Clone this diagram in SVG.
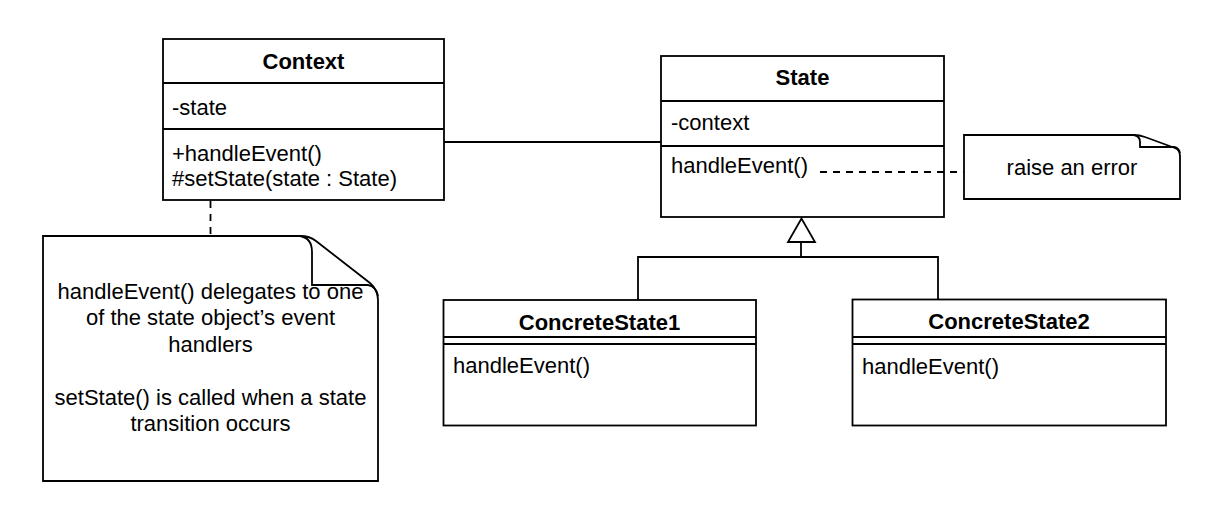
<svg xmlns="http://www.w3.org/2000/svg" width="1224" height="509" viewBox="0 0 1224 509">
<style>
.box{fill:#fff;stroke:#000;stroke-width:1.8}
.ln{fill:none;stroke:#000;stroke-width:1.8}
.dash{fill:none;stroke:#000;stroke-width:1.8;stroke-dasharray:7 6}
text{font-family:"Liberation Sans",Arial,Helvetica,sans-serif;font-size:22px;fill:#000}
.t{font-weight:bold;text-anchor:middle}
.c{text-anchor:middle}
</style>
<rect width="1224" height="509" fill="#fff"/>
<g id="context">
<rect class="box" x="163" y="39" width="281" height="161"/>
<line class="ln" x1="163" y1="83" x2="444" y2="83"/>
<line class="ln" x1="163" y1="129" x2="444" y2="129"/>
<text class="t" x="303.5" y="69">Context</text>
<text x="172" y="115">-state</text>
<text x="172" y="161">+handleEvent()</text>
<text x="172" y="186">#setState(state : State)</text>
</g>
<g id="state">
<rect class="box" x="661" y="56" width="283" height="161"/>
<line class="ln" x1="661" y1="101" x2="944" y2="101"/>
<line class="ln" x1="661" y1="146" x2="944" y2="146"/>
<text class="t" x="802.5" y="85">State</text>
<text x="671" y="130">-context</text>
<text x="671" y="173">handleEvent()</text>
</g>
<g id="concrete1">
<rect class="box" x="443.5" y="300" width="312.5" height="125.5"/>
<line class="ln" x1="443.5" y1="337" x2="756" y2="337"/>
<line class="ln" x1="443.5" y1="344" x2="756" y2="344"/>
<text class="t" x="599.5" y="330">ConcreteState1</text>
<text x="453" y="373">handleEvent()</text>
</g>
<g id="concrete2">
<rect class="box" x="852.5" y="299.5" width="313.5" height="126"/>
<line class="ln" x1="852.5" y1="337" x2="1166" y2="337"/>
<line class="ln" x1="852.5" y1="344" x2="1166" y2="344"/>
<text class="t" x="1009" y="329">ConcreteState2</text>
<text x="862" y="374">handleEvent()</text>
</g>
<g id="note-error">
<path class="box" d="M964,135 H1133 Q1140,135 1145,137 L1175,148 Q1180,150 1180,156 V199 H964 Z"/>
<path class="ln" d="M1134,135 Q1140,136 1140,142 V147 H1174 Q1179,148 1180,153"/>
<text class="c" x="1072" y="175">raise an error</text>
</g>
<g id="note-context">
<path class="box" d="M43,236 H300 Q310,236 316,241 L370,283 Q378,290 378,300 V481 H43 Z"/>
<path class="ln" d="M300,236 Q312,238 312,252 V285 H368 Q376,286 378,296"/>
<text class="c" x="210.5" y="298.5">handleEvent() delegates to one</text>
<text class="c" x="210.5" y="325">of the state object’s event</text>
<text class="c" x="210.5" y="351.5">handlers</text>
<text class="c" x="210.5" y="404.5">setState() is called when a state</text>
<text class="c" x="210.5" y="431">transition occurs</text>
</g>
<g id="connectors">
<line class="ln" x1="444" y1="142" x2="661" y2="142"/>
<line class="dash" x1="820" y1="172" x2="964" y2="172"/>
<line class="dash" x1="210.5" y1="201" x2="210.5" y2="236"/>
<polyline class="ln" points="638,300 638,257 938,257 938,300"/>
<line class="ln" x1="801" y1="242" x2="801" y2="257"/>
<polygon class="box" points="801.5,218.5 788,242 815,242"/>
</g>
</svg>
